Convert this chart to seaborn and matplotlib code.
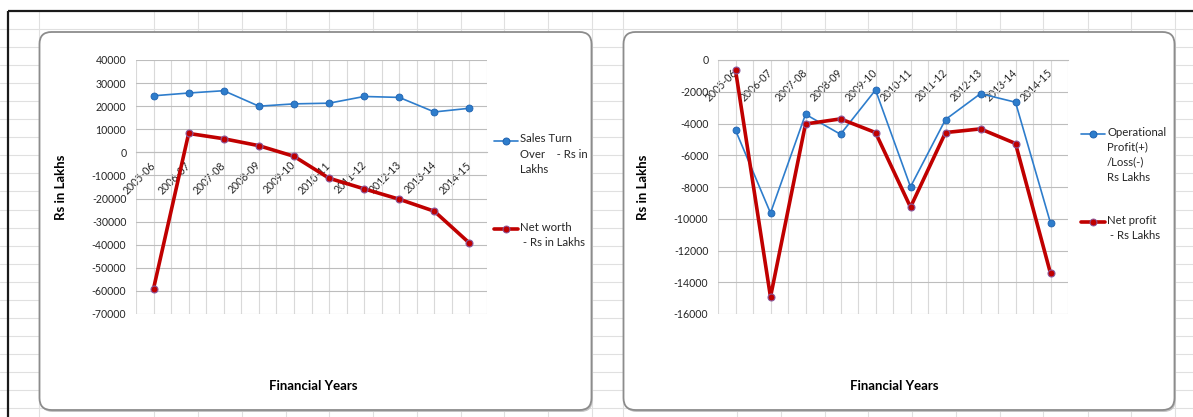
import numpy as np
import pandas as pd
import matplotlib
matplotlib.use("Agg")
import matplotlib.pyplot as plt
from matplotlib.patches import FancyBboxPatch
from matplotlib.lines import Line2D
import seaborn as sns

# ---- data (Rs in Lakhs) ----
years = ["2005-06", "2006-07", "2007-08", "2008-09", "2009-10",
         "2010-11", "2011-12", "2012-13", "2013-14", "2014-15"]
sales_turnover = [24500, 25700, 26700, 20000, 21000, 21300, 24200, 23800, 17500, 19100]
net_worth = [-59000, 8200, 5900, 2900, -1700, -11200, -15800, -20300, -25500, -39300]
operational_profit = [-4420, -9640, -3420, -4680, -1890, -7990, -3750, -2120, -2660, -10270]
net_profit = [-630, -14930, -4030, -3710, -4570, -9270, -4570, -4340, -5260, -13440]

sales_label = "Sales Turn\nOver    - Rs in\nLakhs"
worth_label = "Net worth\n - Rs in Lakhs"
op_label = "Operational\nProfit(+)\n/Loss(-)\nRs Lakhs"
np_label = "Net profit\n - Rs Lakhs"

left_yticks = list(range(-70000, 40001, 10000))
right_yticks = list(range(-16000, 1, 2000))
y_title = "Rs in Lakhs"
x_title = "Financial Years"

# ---- style ----
sns.set_style("white")
plt.rcParams["font.family"] = ["Lato", "DejaVu Sans"]

BLUE = "#2e7dcc"
BLUE_EDGE = "#1f62b0"
RED = "#c00000"
RED_EDGE = "#8a5a9e"
TXT = "#262626"
W, H = 1193, 417

fig = plt.figure(figsize=(W / 100, H / 100), dpi=100)

# worksheet backdrop in pixel coordinates
bg = fig.add_axes([0, 0, 1, 1], zorder=0)
bg.set_xlim(0, W)
bg.set_ylim(H, 0)
bg.axis("off")
for y in np.arange(29, H, 18.05):
    bg.plot([0, W], [y, y], color="#e0e0e0", lw=0.8, zorder=0)
for x in [39, 154, 198, 242, 286, 329, 373, 417, 461, 504, 548, 592,
          623, 737, 781, 825, 868, 912, 956, 1000, 1043, 1088, 1131, 1175]:
    bg.plot([x, x], [11, H], color="#e0e0e0", lw=0.8, zorder=0)
bg.plot([8, W], [11, 11], color="#1a1a1a", lw=1.6, zorder=1, solid_capstyle="butt")
bg.plot([8, 8], [11, H], color="#1a1a1a", lw=1.6, zorder=1, solid_capstyle="butt")

# chart boxes with a soft drop shadow
for x0, x1 in [(39.5, 591.5), (623.5, 1174.5)]:
    y0, y1 = 32, 410
    bg.add_patch(FancyBboxPatch((x0 + 1.2, y0 + 2.0), x1 - x0, y1 - y0,
                                boxstyle="round,pad=0,rounding_size=12",
                                fc="#c4c4c4", ec="none", zorder=2))
    bg.add_patch(FancyBboxPatch((x0, y0), x1 - x0, y1 - y0,
                                boxstyle="round,pad=0,rounding_size=12",
                                fc="white", ec="#8c8c8c", lw=1.3, zorder=3))

panels = []


def draw_panel(rect, s1, s2, yticks, lab1, lab2, leg_x, leg_y1, leg_y2):
    ax = fig.add_axes(rect, zorder=5)
    ax.set_facecolor("none")
    df1 = pd.DataFrame({"year": years, "value": s1})
    df2 = pd.DataFrame({"year": years, "value": s2})
    sns.lineplot(data=df1, x="year", y="value", ax=ax, sort=False, color=BLUE,
                 lw=1.2, marker="o", ms=5, mfc=BLUE, mec=BLUE_EDGE, mew=0.6, zorder=4)
    sns.lineplot(data=df2, x="year", y="value", ax=ax, sort=False, color=RED,
                 lw=2.6, marker="o", ms=5, mfc=RED, mec=RED_EDGE, mew=0.8, zorder=5)
    ax.set_xlim(-0.5, len(years) - 0.5)
    ax.set_ylim(yticks[0], yticks[-1])
    ax.tick_params(axis="x", which="both", length=0, pad=8,
                   labelsize=7.6, labelcolor=TXT, labelrotation=45)
    ax.tick_params(axis="y", length=0, pad=7, labelsize=7.6, labelcolor=TXT)
    ax.set_yticks(yticks)
    ax.set_yticklabels([f"{v}" for v in yticks])
    ax.set_xticks(np.arange(-0.5, len(years), 0.5), minor=True)
    ax.set_xticks(range(len(years)))
    ax.set_xticklabels(years)
    ax.grid(True, axis="x", which="both", color="#d9d9d9", lw=0.8)
    ax.grid(True, axis="y", which="major", color="#bdbdbd", lw=0.8)
    for side in ["left", "right", "top"]:
        ax.spines[side].set_visible(False)
    ax.spines["bottom"].set_position(("data", 0))
    ax.spines["bottom"].set_color("#bdbdbd")
    ax.spines["bottom"].set_linewidth(0.8)
    ax.set_xlabel(x_title, fontsize=9.5, fontweight="bold", color="black")
    ax.set_ylabel(y_title, fontsize=9.5, fontweight="bold", color="black")
    ax.xaxis.set_label_coords(0.505, -0.26)
    ax.yaxis.set_label_coords(-0.198, 0.5)

    # legend entries, handle aligned with the first text line
    for lab, yy, col, ecol, lw in [(lab1, leg_y1, BLUE, BLUE_EDGE, 1.2),
                                   (lab2, leg_y2, RED, RED_EDGE, 2.6)]:
        bg.add_line(Line2D([leg_x, leg_x + 24], [yy, yy], color=col, lw=lw, zorder=6))
        bg.add_line(Line2D([leg_x + 12], [yy], marker="o", ms=5, mfc=col,
                           mec=ecol, mew=0.7, color=col, zorder=7))
        bg.text(leg_x + 26, yy - 7.5, lab, fontsize=8.2, color=TXT, va="top",
                ha="left", linespacing=1.45, zorder=7)
    panels.append(ax)
    return ax


draw_panel([136 / W, (H - 314) / H, 351 / W, 254 / H],
           sales_turnover, net_worth, left_yticks, sales_label, worth_label,
           494, 141, 229)
draw_panel([718 / W, (H - 314) / H, 350 / W, 254 / H],
           operational_profit, net_profit, right_yticks, op_label, np_label,
           1081, 134, 222)

# slanted category labels along the zero line
fig.canvas.draw()
for ax in panels:
    for lbl in ax.get_xticklabels():
        lbl.set_fontsize(7.6)
        lbl.set_rotation(45)
        lbl.set_ha("right")
        lbl.set_va("center")
        lbl.set_rotation_mode("anchor")

fig.savefig("out.png", dpi=100)
